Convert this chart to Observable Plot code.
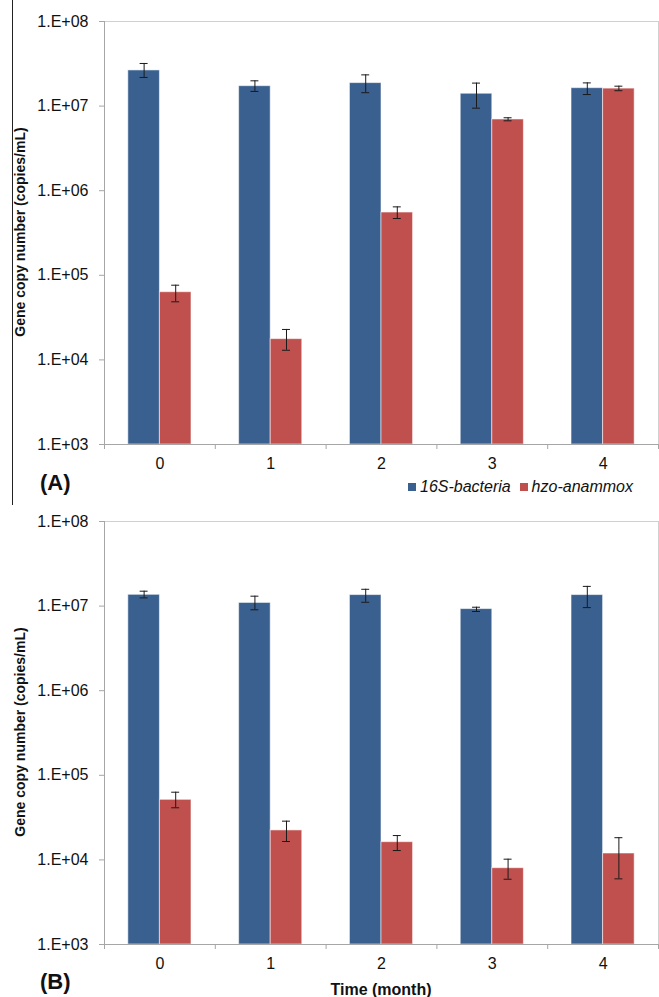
<!DOCTYPE html>
<html>
<head>
<meta charset="utf-8">
<script src="https://cdn.jsdelivr.net/npm/d3@7"></script>
<script src="https://cdn.jsdelivr.net/npm/@observablehq/plot@0.6"></script>
<style>
  html, body { margin: 0; padding: 0; background: #fff; }
  #wrap { position: relative; width: 659px; height: 997px; font-family: "Liberation Sans", Arial, sans-serif; color: #111; overflow: hidden; }
  .abs { position: absolute; }
  .ytitle { font-weight: bold; font-size: 14px; white-space: nowrap; transform: translate(-50%, -50%) rotate(-90deg); }
  .panel { font-weight: bold; font-size: 22px; }
  .legend { font-style: italic; font-size: 16px; white-space: nowrap; display: flex; align-items: center; }
  .sw { display: inline-block; width: 8px; height: 8px; margin-right: 4px; }
</style>
</head>
<body>
<div id="wrap"></div>
<script>
// ---- data ----
const months = [0, 1, 2, 3, 4];
const series = ["16S-bacteria", "hzo-anammox"];
const colors = ["#3a6090", "#c0504d"];
const yTicks = [1e3, 1e4, 1e5, 1e6, 1e7, 1e8];

// Panel A
const A_bact    = [2.64e7, 1.72e7, 1.87e7, 1.40e7, 1.63e7];
const A_bact_lo = [2.18e7, 1.49e7, 1.44e7, 9.45e6, 1.37e7];
const A_bact_hi = [3.19e7, 1.99e7, 2.34e7, 1.87e7, 1.88e7];
const A_anx     = [6.31e4, 1.76e4, 5.52e5, 6.95e6, 1.61e7];
const A_anx_lo  = [4.86e4, 1.30e4, 4.69e5, 6.70e6, 1.52e7];
const A_anx_hi  = [7.64e4, 2.29e4, 6.44e5, 7.28e6, 1.72e7];

// Panel B
const B_bact    = [1.36e7, 1.09e7, 1.35e7, 9.22e6, 1.35e7];
const B_bact_lo = [1.25e7, 9.04e6, 1.11e7, 8.63e6, 9.6e6];
const B_bact_hi = [1.50e7, 1.31e7, 1.58e7, 9.7e6, 1.71e7];
const B_anx     = [5.13e4, 2.23e4, 1.62e4, 7.98e3, 1.19e4];
const B_anx_lo  = [4.13e4, 1.65e4, 1.29e4, 5.91e3, 5.97e3];
const B_anx_hi  = [6.31e4, 2.87e4, 1.94e4, 1.02e4, 1.83e4];

const BW = 0.285;   // bar width in category units
const CAP = 0.036;  // half cap width in category units

function makeRows(bact, bLo, bHi, anx, aLo, aHi) {
  return months.flatMap((m, i) => [
    {m, s: series[0], side: -1, v: bact[i], lo: bLo[i], hi: bHi[i]},
    {m, s: series[1], side: 0, v: anx[i], lo: aLo[i], hi: aHi[i]}
  ]);
}

function panel(rows, height, marginBottom) {
  const x1 = d => d.m + d.side * BW;
  const x2 = d => d.m + (d.side + 1) * BW;
  const cx = d => d.m + (d.side + 0.5) * BW;
  const boundaries = d3.range(months.length + 1).map(i => months[0] - 0.5 + i);
  return Plot.plot({
    width: 659,
    height,
    marginTop: 21,
    marginBottom,
    marginLeft: 104,
    marginRight: 1,
    style: {fontFamily: "'Liberation Sans', Arial, sans-serif", background: "transparent", color: "#111"},
    x: {type: "linear", domain: [months[0] - 0.5, months[months.length - 1] + 0.5], axis: null},
    y: {type: "log", domain: [1e3, 1e8], axis: null},
    color: {domain: series, range: colors},
    marks: [
      Plot.frame({stroke: "#d0d0d0"}),
      Plot.rectY(rows, {x1, x2, y1: 1e3, y2: "v", fill: "s", stroke: "#ffffff", strokeOpacity: 0.55, strokeWidth: 1}),
      Plot.ruleX(rows, {x: cx, y1: "lo", y2: "hi", stroke: "#1a1a1a", strokeWidth: 1}),
      Plot.ruleY(rows, {y: "lo", x1: d => cx(d) - CAP, x2: d => cx(d) + CAP, stroke: "#1a1a1a", strokeWidth: 1}),
      Plot.ruleY(rows, {y: "hi", x1: d => cx(d) - CAP, x2: d => cx(d) + CAP, stroke: "#1a1a1a", strokeWidth: 1}),
      Plot.ruleX([months[0] - 0.5], {stroke: "#a6a6a6"}),
      Plot.ruleY([1e3], {stroke: "#a6a6a6"}),
      Plot.axisY({ticks: yTicks, tickFormat: d => "1.E+" + String(Math.round(Math.log10(d))).padStart(2, "0"),
                  tickSize: 5, tickPadding: 11, fontSize: 16, stroke: "#a6a6a6", label: null}),
      Plot.axisX({ticks: boundaries, tickFormat: () => "", tickSize: 5, stroke: "#a6a6a6", label: null}),
      Plot.axisX({ticks: months, tickFormat: d => String(d), tickSize: 0, tickPadding: 13, fontSize: 16, label: null})
    ]
  });
}

const wrap = document.getElementById("wrap");
function place(el, top, left) {
  el.style.position = "absolute";
  el.style.top = top + "px";
  el.style.left = left + "px";
  wrap.appendChild(el);
  return el;
}
function div(cls, html, css) {
  const d = document.createElement("div");
  d.className = "abs " + cls;
  d.innerHTML = html;
  Object.assign(d.style, css);
  wrap.appendChild(d);
  return d;
}

const svgA = panel(makeRows(A_bact, A_bact_lo, A_bact_hi, A_anx, A_anx_lo, A_anx_hi), 478, 34);
place(svgA, 0, 0);
const svgB = panel(makeRows(B_bact, B_bact_lo, B_bact_hi, B_anx, B_anx_lo, B_anx_hi), 497, 53);
place(svgB, 500, 0);

// figure border line of panel A
div("", "", {left: "12px", top: "0px", width: "1px", height: "505px", background: "#222"});

// axis titles
div("ytitle", "Gene copy number (copies/mL)", {left: "19.5px", top: "232px"});
div("ytitle", "Gene copy number (copies/mL)", {left: "19.5px", top: "732px"});
div("", "Time (month)", {left: "381px", top: "990px", transform: "translate(-50%,-50%)", fontWeight: "bold", fontSize: "16px", whiteSpace: "nowrap"});

// panel letters
div("panel", "(A)", {left: "40px", top: "470px"});
div("panel", "(B)", {left: "40px", top: "969px"});

// legend
div("legend",
  `<span class="sw" style="background:${colors[0]}"></span>${series[0]}&nbsp;&nbsp;<span class="sw" style="background:${colors[1]}"></span>${series[1]}`,
  {left: "408px", top: "478px", lineHeight: "18px"});
</script>
</body>
</html>
